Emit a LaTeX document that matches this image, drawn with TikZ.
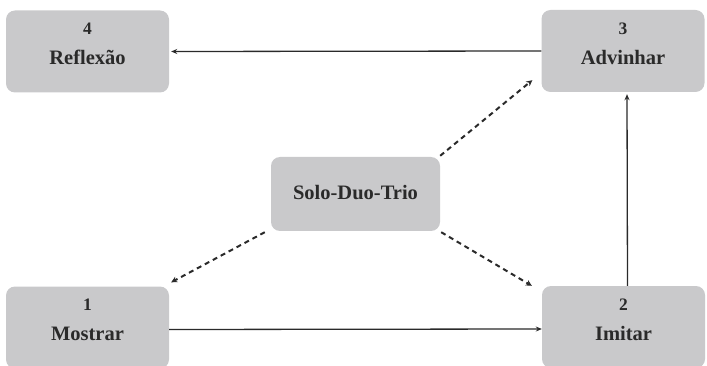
\documentclass[tikz,border=0pt]{standalone}
\usepackage{fontspec}
\setmainfont{Liberation Serif}
\usetikzlibrary{arrows.meta}
\definecolor{boxgray}{RGB}{201,201,203}
\definecolor{inkgray}{RGB}{42,42,42}
\begin{document}
\begin{tikzpicture}[
  x=1pt, y=-1pt,
  stage/.style={draw=none, fill=boxgray, rounded corners=9pt, align=center,
    minimum width=163pt, minimum height=82pt, text=inkgray, text depth=15pt,
    font=\fontsize{20.5}{30}\selectfont\bfseries},
  hub/.style={stage, text depth=4pt, minimum width=169pt, minimum height=74pt},
  flow/.style={draw=inkgray, line width=1.3pt, -{Stealth[length=6pt,width=5pt]}},
  hint/.style={draw=inkgray, line width=2pt, dash pattern=on 5pt off 4pt,
    -{Stealth[length=6pt,width=6pt]}}
  ]
	\useasboundingbox (0,0) rectangle (707,366);

	\node[stage] (reflexao) at (87.5,51.5) {{\fontsize{17.5}{30}\selectfont 4}\\Reflexão};
	\node[stage] (advinhar) at (623,51) {{\fontsize{17.5}{30}\selectfont 3}\\Advinhar};
	\node[stage] (mostrar) at (87.5,327.5) {{\fontsize{17.5}{30}\selectfont 1}\\Mostrar};
	\node[stage] (imitar) at (623.5,327) {{\fontsize{17.5}{30}\selectfont 2}\\Imitar};

	\node[hub] (solo) at (355.5,194) {Solo-Duo-Trio};

	\draw[flow] (advinhar.west) -- ([xshift=2pt]reflexao.east);
	\draw[flow] ([yshift=-2pt]mostrar.east) -- ([yshift=-2pt]imitar.west);
	\draw[flow] ([xshift=4pt]imitar.north) -- ([xshift=4pt,yshift=-2pt]advinhar.south);

	\draw[hint] ([shift={(0,-1)}]solo.north east) -- ([shift={(-9,-12)}]advinhar.south west);
	\draw[hint] ([shift={(1,1)}]solo.south east) -- ([shift={(-10,0)}]imitar.north west);
	\draw[hint] ([shift={(-6,1)}]solo.south west) -- ([shift={(2,-4)}]mostrar.north east);
\end{tikzpicture}
\end{document}
